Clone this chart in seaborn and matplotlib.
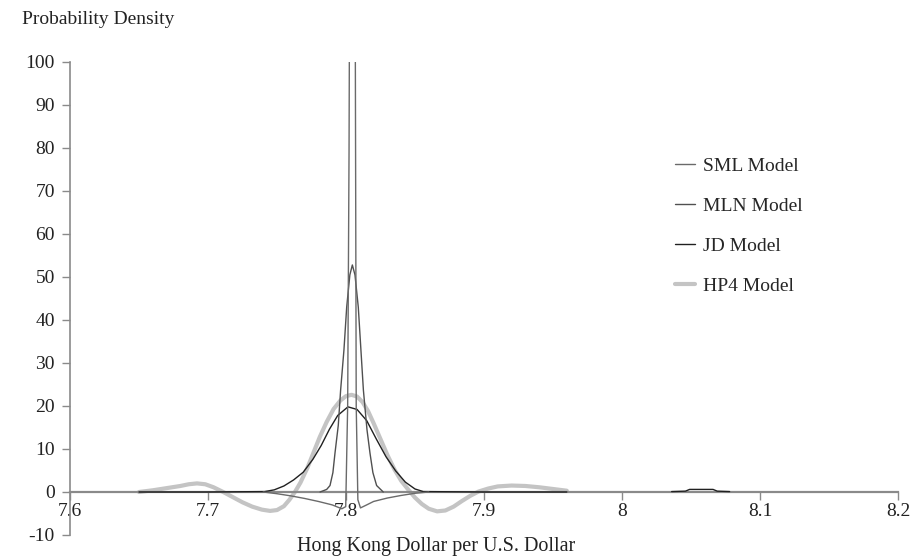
"""Плотности вероятности курса HKD/USD для четырёх моделей."""

import matplotlib
import matplotlib.pyplot as plt
import seaborn as sns

matplotlib.use("Agg")

# ------------------------------------------------------------
# Данные
# ------------------------------------------------------------

hp4_x = [7.65, 7.66, 7.67, 7.68, 7.686, 7.692, 7.698, 7.704, 7.711, 7.718,
         7.725, 7.732, 7.739, 7.745, 7.750, 7.755, 7.759, 7.763, 7.767,
         7.772, 7.776, 7.781, 7.786, 7.791, 7.796, 7.800, 7.804, 7.808,
         7.812, 7.816, 7.820, 7.825, 7.830, 7.835, 7.840, 7.845, 7.850,
         7.855, 7.860, 7.866, 7.872, 7.878, 7.884, 7.890, 7.896, 7.903,
         7.910, 7.920, 7.930, 7.940, 7.950, 7.960]
hp4_y = [0.0, 0.4, 0.9, 1.4, 1.8, 2.0, 1.8, 1.1, 0.0, -1.2,
         -2.4, -3.4, -4.1, -4.4, -4.2, -3.3, -1.8, 0.0, 2.2,
         5.6, 8.8, 12.8, 16.3, 19.3, 21.3, 22.3, 22.6, 22.2,
         20.9, 18.8, 16.0, 12.3, 8.6, 5.3, 2.6, 0.6, -1.3,
         -2.8, -3.9, -4.5, -4.3, -3.4, -2.1, -0.9, 0.1, 0.8,
         1.3, 1.5, 1.4, 1.1, 0.7, 0.3]

jd_x = [7.65, 7.70, 7.741, 7.748, 7.755, 7.762, 7.769, 7.776, 7.782, 7.788,
        7.794, 7.8014, 7.808, 7.815, 7.822, 7.829, 7.836, 7.843, 7.85,
        7.856, 7.90, 7.96]
jd_y = [0.0, 0.0, 0.1, 0.5, 1.4, 2.8, 4.6, 7.6, 10.8, 14.6,
        17.8, 19.8, 19.2, 16.6, 12.3, 8.2, 4.9, 2.3, 0.7,
        0.1, 0.0, 0.0]

jd_bump_x = [8.036, 8.046, 8.049, 8.066, 8.069, 8.078]
jd_bump_y = [0.1, 0.2, 0.6, 0.6, 0.2, 0.1]

mln_x = [7.7812, 7.7860, 7.7884, 7.7905, 7.792, 7.7944, 7.7961, 7.7985,
         7.8005, 7.8028, 7.8046, 7.8065, 7.8089, 7.8112, 7.8126, 7.8152,
         7.8174, 7.8195, 7.8222, 7.827]
mln_y = [0.0, 0.6, 1.5, 4.5, 9.0, 15.5, 23.7, 33.0,
         43.0, 50.5, 52.8, 50.5, 43.0, 31.0, 23.7, 14.5,
         9.0, 4.5, 1.5, 0.0]

sml_x = [7.74, 7.75, 7.76, 7.77, 7.78, 7.79, 7.797, 7.7998, 7.8012,
         7.8022, 7.8030, 7.8062, 7.8068, 7.8074, 7.8086, 7.8105, 7.815,
         7.82, 7.83, 7.84, 7.85, 7.86]
sml_y = [0.0, -0.4, -0.9, -1.5, -2.2, -3.0, -3.9, -3.4, 20.0,
         79.0, 160.0, 160.0, 97.0, 20.0, -1.8, -3.7, -3.0,
         -2.2, -1.4, -0.8, -0.3, 0.0]

model_names = ["SML Model", "MLN Model", "JD Model", "HP4 Model"]
x_ticks = [7.6, 7.7, 7.8, 7.9, 8.0, 8.1, 8.2]
x_tick_labels = ["7.6", "7.7", "7.8", "7.9", "8", "8.1", "8.2"]
y_ticks = list(range(-10, 101, 10))

# ------------------------------------------------------------
# Оформление
# ------------------------------------------------------------

sns.set_style("white")
plt.rcParams["font.family"] = ["Liberation Serif", "DejaVu Serif"]
plt.rcParams["axes.unicode_minus"] = False

fig = plt.figure(figsize=(9.19, 5.57), dpi=100)
ax = fig.add_axes([0.0762, 0.0395, 0.9009, 0.8492])

axis_grey = "#8a8a8a"
colors = {
    "SML Model": "#6a6a6a",
    "MLN Model": "#505050",
    "JD Model": "#202020",
    "HP4 Model": "#c4c4c4",
}

# HP4 рисуем первой — под тонкими линиями
sns.lineplot(x=hp4_x, y=hp4_y, sort=False, color=colors["HP4 Model"],
             linewidth=3.0, ax=ax, label="HP4 Model", zorder=2)
sns.lineplot(x=jd_x, y=jd_y, sort=False, color=colors["JD Model"],
             linewidth=1.0, ax=ax, label="JD Model", zorder=3)
sns.lineplot(x=jd_bump_x, y=jd_bump_y, sort=False, color=colors["JD Model"],
             linewidth=1.0, ax=ax, zorder=3)
sns.lineplot(x=mln_x, y=mln_y, sort=False, color=colors["MLN Model"],
             linewidth=1.0, ax=ax, label="MLN Model", zorder=3)
sns.lineplot(x=sml_x, y=sml_y, sort=False, color=colors["SML Model"],
             linewidth=1.0, ax=ax, label="SML Model", zorder=3)

ax.set_xlim(7.6, 8.2)
ax.set_ylim(-10, 100)

for side in ["top", "right"]:
    ax.spines[side].set_visible(False)
ax.spines["bottom"].set_position(("data", 0))
ax.spines["bottom"].set_color(axis_grey)
ax.spines["left"].set_color(axis_grey)
ax.spines["bottom"].set_linewidth(1.6)
ax.spines["left"].set_linewidth(1.2)

ax.set_xticks(x_ticks)
ax.set_xticklabels(x_tick_labels)
ax.set_yticks(y_ticks)
ax.tick_params(axis="both", direction="out", length=6, width=1,
               color=axis_grey, labelsize=14, labelcolor="#222222",
               bottom=True, left=True)
ax.tick_params(axis="y", pad=5)
ax.tick_params(axis="x", pad=2)
ax.set_xlabel("")
ax.set_ylabel("")

handles, labels = ax.get_legend_handles_labels()
order = [labels.index(n) for n in model_names]
ax.legend([handles[i] for i in order], [labels[i] for i in order],
          loc="upper left", bbox_to_anchor=(0.71, 0.835), frameon=False,
          fontsize=14, handlelength=1.0, handletextpad=0.4,
          labelspacing=1.15)

fig.text(22 / 919, 1 - 20 / 557, "Probability Density", fontsize=14,
         color="#222222", ha="left", va="center")
fig.text(436 / 919, 1 - 547 / 557, "Hong Kong Dollar per U.S. Dollar",
         fontsize=14.5, color="#222222", ha="center", va="center")

fig.savefig("out.png", dpi=100)
plt.close(fig)
